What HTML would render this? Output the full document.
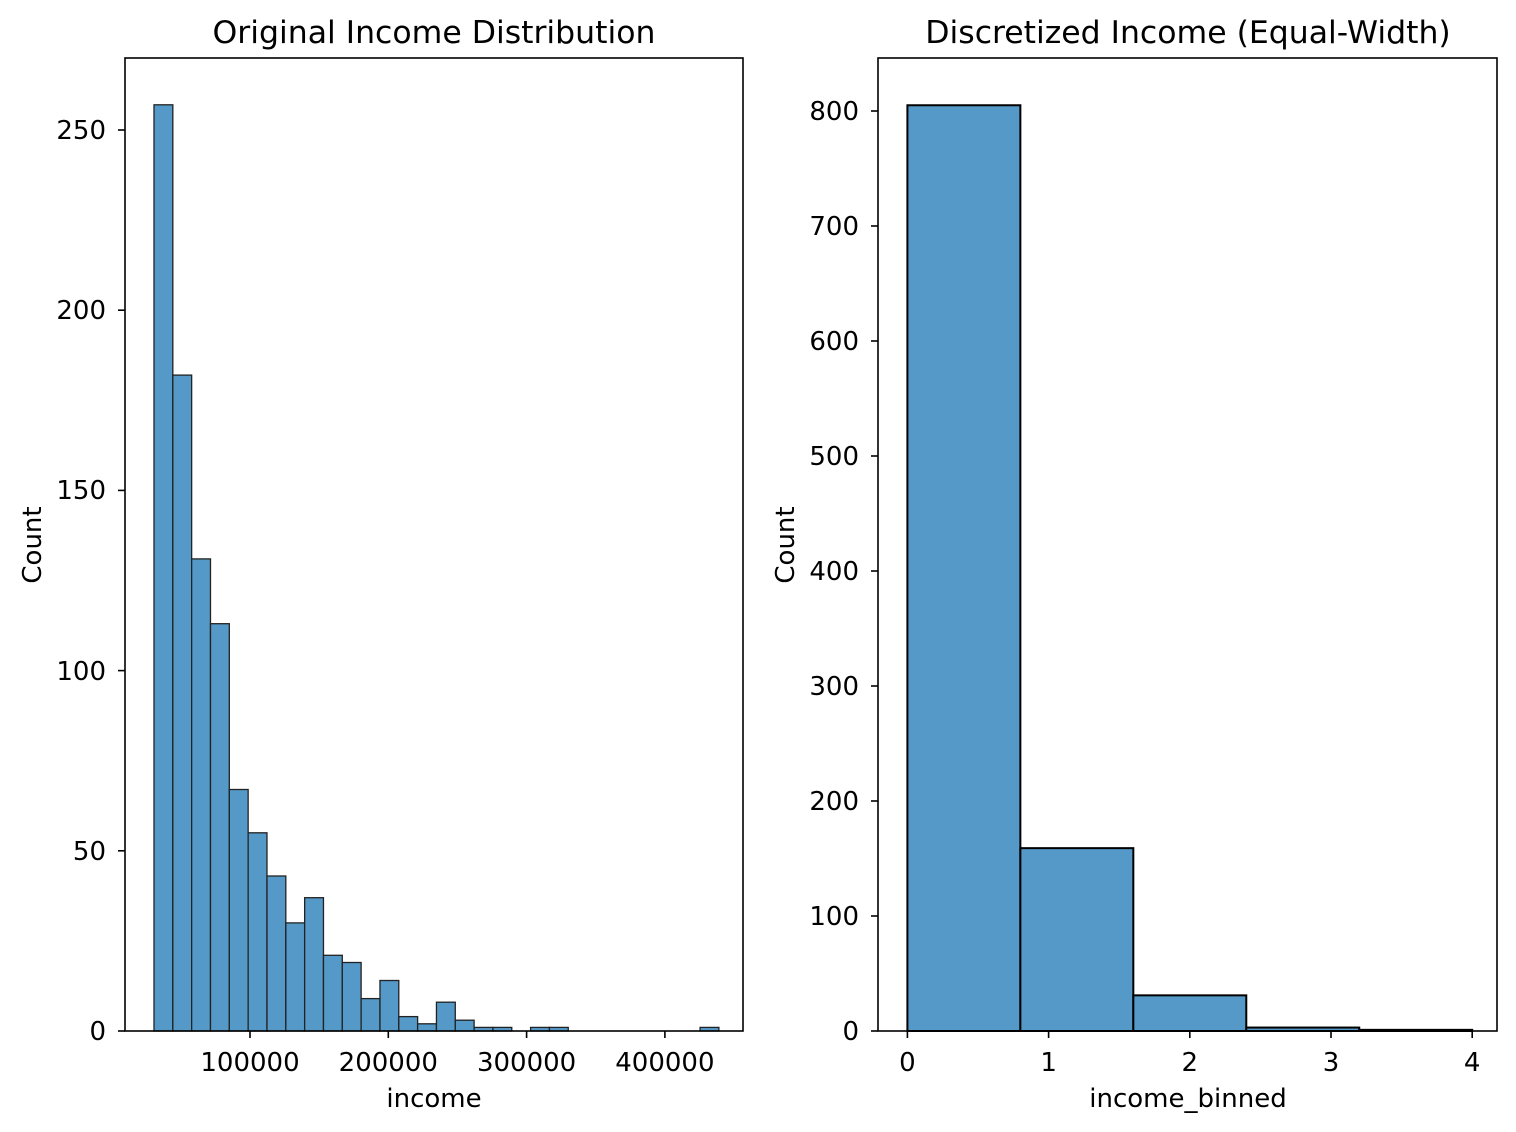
<!DOCTYPE html>
<html><head><meta charset="utf-8"><style>body{margin:0;background:#fff}svg{display:block}text{font-family:"DejaVu Sans","Liberation Sans",sans-serif;fill:#000}</style></head>
<body>
<svg width="1516" height="1132" viewBox="0 0 1516 1132" xmlns="http://www.w3.org/2000/svg">
<rect width="1516" height="1132" fill="#fff"/>
<!-- LEFT -->
<g fill="#5499c7" stroke="#222" stroke-width="1.3">
<rect x="154" y="104.8" width="18.83" height="926.2"/>
<rect x="172.83" y="375.1" width="18.83" height="655.9"/>
<rect x="191.66" y="558.9" width="18.83" height="472.1"/>
<rect x="210.49" y="623.7" width="18.83" height="407.3"/>
<rect x="229.32" y="789.5" width="18.83" height="241.5"/>
<rect x="248.15" y="832.8" width="18.83" height="198.2"/>
<rect x="266.98" y="876" width="18.83" height="155"/>
<rect x="285.81" y="922.9" width="18.83" height="108.1"/>
<rect x="304.64" y="897.7" width="18.83" height="133.3"/>
<rect x="323.47" y="955.3" width="18.83" height="75.7"/>
<rect x="342.3" y="962.5" width="18.83" height="68.5"/>
<rect x="361.13" y="998.6" width="18.83" height="32.4"/>
<rect x="379.96" y="980.5" width="18.83" height="50.5"/>
<rect x="398.79" y="1016.6" width="18.83" height="14.4"/>
<rect x="417.62" y="1023.8" width="18.83" height="7.2"/>
<rect x="436.45" y="1002.2" width="18.83" height="28.8"/>
<rect x="455.28" y="1020.2" width="18.83" height="10.8"/>
<rect x="474.11" y="1027.4" width="18.83" height="3.6"/>
<rect x="492.94" y="1027.4" width="18.83" height="3.6"/>
<rect x="530.6" y="1027.4" width="18.83" height="3.6"/>
<rect x="549.43" y="1027.4" width="18.83" height="3.6"/>
<rect x="700.07" y="1027.4" width="18.83" height="3.6"/>
</g>
<rect x="125" y="58" width="618" height="973" fill="none" stroke="#000" stroke-width="1.6"/>
<g stroke="#000" stroke-width="1.6">
<line x1="118" y1="1031" x2="125" y2="1031"/><line x1="118" y1="850.8" x2="125" y2="850.8"/><line x1="118" y1="670.6" x2="125" y2="670.6"/><line x1="118" y1="490.4" x2="125" y2="490.4"/><line x1="118" y1="310.2" x2="125" y2="310.2"/><line x1="118" y1="130" x2="125" y2="130"/>
<line x1="250" y1="1031" x2="250" y2="1038"/><line x1="388.3" y1="1031" x2="388.3" y2="1038"/><line x1="526.6" y1="1031" x2="526.6" y2="1038"/><line x1="664.9" y1="1031" x2="664.9" y2="1038"/>
</g>
<g font-size="26" text-anchor="end">
<text x="106" y="1040">0</text><text x="106" y="860">50</text><text x="106" y="680">100</text><text x="106" y="499">150</text><text x="106" y="319">200</text><text x="106" y="139">250</text>
</g>
<g font-size="26" text-anchor="middle">
<text x="250" y="1071">100000</text><text x="388.3" y="1071">200000</text><text x="526.6" y="1071">300000</text><text x="664.9" y="1071">400000</text>
<text x="434" y="1107">income</text>
<text x="434" y="43" font-size="31.5">Original Income Distribution</text>
<text transform="translate(41,545) rotate(-90)">Count</text>
</g>
<!-- RIGHT -->
<g fill="#5499c7" stroke="#000" stroke-width="2">
<rect x="907.4" y="105.25" width="112.96" height="925.75"/>
<rect x="1020.36" y="848.15" width="112.96" height="182.85"/>
<rect x="1133.32" y="995.35" width="112.96" height="35.65"/>
<rect x="1246.28" y="1027.55" width="112.96" height="3.45"/>
<rect x="1359.24" y="1029.85" width="112.96" height="1.15"/>
</g>
<rect x="878" y="58" width="619" height="973" fill="none" stroke="#000" stroke-width="1.6"/>
<g stroke="#000" stroke-width="1.6">
<line x1="871" y1="1031" x2="878" y2="1031"/><line x1="871" y1="916" x2="878" y2="916"/><line x1="871" y1="801" x2="878" y2="801"/><line x1="871" y1="686" x2="878" y2="686"/><line x1="871" y1="571" x2="878" y2="571"/><line x1="871" y1="456" x2="878" y2="456"/><line x1="871" y1="341" x2="878" y2="341"/><line x1="871" y1="226" x2="878" y2="226"/><line x1="871" y1="111" x2="878" y2="111"/>
<line x1="907.4" y1="1031" x2="907.4" y2="1038"/><line x1="1048.6" y1="1031" x2="1048.6" y2="1038"/><line x1="1189.8" y1="1031" x2="1189.8" y2="1038"/><line x1="1331" y1="1031" x2="1331" y2="1038"/><line x1="1472.2" y1="1031" x2="1472.2" y2="1038"/>
</g>
<g font-size="26" text-anchor="end">
<text x="859" y="1040">0</text><text x="859" y="925">100</text><text x="859" y="810">200</text><text x="859" y="695">300</text><text x="859" y="580">400</text><text x="859" y="465">500</text><text x="859" y="350">600</text><text x="859" y="235">700</text><text x="859" y="120">800</text>
</g>
<g font-size="26" text-anchor="middle">
<text x="907.4" y="1071">0</text><text x="1048.6" y="1071">1</text><text x="1189.8" y="1071">2</text><text x="1331" y="1071">3</text><text x="1472.2" y="1071">4</text>
<text x="1188" y="1107">income_binned</text>
<text x="1188" y="43" font-size="31.5">Discretized Income (Equal-Width)</text>
<text transform="translate(794,545) rotate(-90)">Count</text>
</g>
</svg>
</body></html>
